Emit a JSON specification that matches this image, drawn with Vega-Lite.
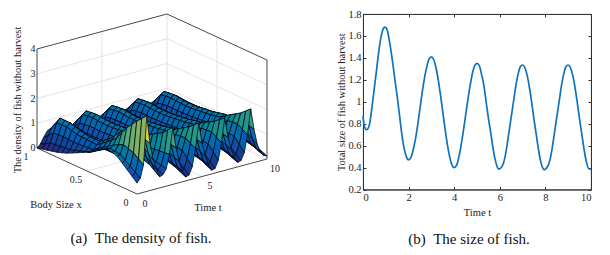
{"$schema":"https://vega.github.io/schema/vega-lite/v6.json","bounds":"flush","spacing":0,"padding":{"left":0,"top":8,"right":0,"bottom":0},"background":"white","config":{"view":{"stroke":null},"text":{"font":"Liberation Serif"}},
"datasets":{
"grid":[
{"k":4020,"z":0.05},{"k":3920,"z":0.19},{"k":3820,"z":0.38},{"k":3720,"z":0.55},{"k":3620,"z":0.6},{"k":3520,"z":0.55},{"k":3420,"z":0.38},{"k":3320,"z":0.19},{"k":3220,"z":0.05},{"k":3120,"z":0.19},{"k":3020,"z":0.38},{"k":2920,"z":0.55},{"k":2820,"z":0.6},{"k":2720,"z":0.55},{"k":2620,"z":0.38},{"k":2520,"z":0.19},{"k":2420,"z":0.05},{"k":2320,"z":0.19},{"k":2220,"z":0.38},{"k":2120,"z":0.55},{"k":2020,"z":0.6},{"k":1920,"z":0.55},{"k":1820,"z":0.38},{"k":1720,"z":0.19},{"k":1620,"z":0.05},{"k":1520,"z":0.2},{"k":1420,"z":0.39},{"k":1320,"z":0.57},{"k":1220,"z":0.63},{"k":1120,"z":0.57},{"k":1020,"z":0.39},{"k":920,"z":0.2},{"k":820,"z":0.06},{"k":720,"z":0.19},{"k":620,"z":0.38},{"k":520,"z":0.55},{"k":420,"z":0.62},{"k":320,"z":0.55},{"k":220,"z":0.35},{"k":120,"z":0.12},{"k":20,"z":0},
{"k":4019,"z":0.12},{"k":3919,"z":0.32},{"k":3819,"z":0.59},{"k":3719,"z":0.82},{"k":3619,"z":0.9},{"k":3519,"z":0.82},{"k":3419,"z":0.59},{"k":3319,"z":0.32},{"k":3219,"z":0.12},{"k":3119,"z":0.32},{"k":3019,"z":0.59},{"k":2919,"z":0.82},{"k":2819,"z":0.9},{"k":2719,"z":0.82},{"k":2619,"z":0.59},{"k":2519,"z":0.32},{"k":2419,"z":0.12},{"k":2319,"z":0.32},{"k":2219,"z":0.59},{"k":2119,"z":0.82},{"k":2019,"z":0.9},{"k":1919,"z":0.82},{"k":1819,"z":0.59},{"k":1719,"z":0.32},{"k":1619,"z":0.12},{"k":1519,"z":0.33},{"k":1419,"z":0.61},{"k":1319,"z":0.86},{"k":1219,"z":0.95},{"k":1119,"z":0.86},{"k":1019,"z":0.61},{"k":919,"z":0.33},{"k":819,"z":0.14},{"k":719,"z":0.33},{"k":619,"z":0.6},{"k":519,"z":0.83},{"k":419,"z":0.93},{"k":319,"z":0.82},{"k":219,"z":0.53},{"k":119,"z":0.23},{"k":19,"z":0.05},
{"k":4018,"z":0.2},{"k":3918,"z":0.45},{"k":3818,"z":0.8},{"k":3718,"z":1.1},{"k":3618,"z":1.2},{"k":3518,"z":1.1},{"k":3418,"z":0.8},{"k":3318,"z":0.45},{"k":3218,"z":0.2},{"k":3118,"z":0.44},{"k":3018,"z":0.79},{"k":2918,"z":1.09},{"k":2818,"z":1.19},{"k":2718,"z":1.09},{"k":2618,"z":0.8},{"k":2518,"z":0.45},{"k":2418,"z":0.2},{"k":2318,"z":0.45},{"k":2218,"z":0.8},{"k":2118,"z":1.1},{"k":2018,"z":1.2},{"k":1918,"z":1.1},{"k":1818,"z":0.8},{"k":1718,"z":0.45},{"k":1618,"z":0.2},{"k":1518,"z":0.47},{"k":1418,"z":0.84},{"k":1318,"z":1.15},{"k":1218,"z":1.26},{"k":1118,"z":1.15},{"k":1018,"z":0.84},{"k":918,"z":0.47},{"k":818,"z":0.22},{"k":718,"z":0.48},{"k":618,"z":0.82},{"k":518,"z":1.12},{"k":418,"z":1.25},{"k":318,"z":1.1},{"k":218,"z":0.72},{"k":118,"z":0.35},{"k":18,"z":0.1},
{"k":4017,"z":0.25},{"k":3917,"z":0.5},{"k":3817,"z":0.84},{"k":3717,"z":1.13},{"k":3617,"z":1.23},{"k":3517,"z":1.13},{"k":3417,"z":0.84},{"k":3317,"z":0.5},{"k":3217,"z":0.25},{"k":3117,"z":0.49},{"k":3017,"z":0.83},{"k":2917,"z":1.12},{"k":2817,"z":1.22},{"k":2717,"z":1.12},{"k":2617,"z":0.84},{"k":2517,"z":0.5},{"k":2417,"z":0.25},{"k":2317,"z":0.5},{"k":2217,"z":0.84},{"k":2117,"z":1.13},{"k":2017,"z":1.23},{"k":1917,"z":1.13},{"k":1817,"z":0.84},{"k":1717,"z":0.5},{"k":1617,"z":0.25},{"k":1517,"z":0.52},{"k":1417,"z":0.87},{"k":1317,"z":1.18},{"k":1217,"z":1.29},{"k":1117,"z":1.18},{"k":1017,"z":0.87},{"k":917,"z":0.52},{"k":817,"z":0.28},{"k":717,"z":0.52},{"k":617,"z":0.84},{"k":517,"z":1.12},{"k":417,"z":1.25},{"k":317,"z":1.11},{"k":217,"z":0.74},{"k":117,"z":0.38},{"k":17,"z":0.15},
{"k":4016,"z":0.3},{"k":3916,"z":0.54},{"k":3816,"z":0.87},{"k":3716,"z":1.16},{"k":3616,"z":1.25},{"k":3516,"z":1.16},{"k":3416,"z":0.87},{"k":3316,"z":0.54},{"k":3216,"z":0.3},{"k":3116,"z":0.54},{"k":3016,"z":0.87},{"k":2916,"z":1.15},{"k":2816,"z":1.24},{"k":2716,"z":1.15},{"k":2616,"z":0.87},{"k":2516,"z":0.54},{"k":2416,"z":0.3},{"k":2316,"z":0.54},{"k":2216,"z":0.87},{"k":2116,"z":1.16},{"k":2016,"z":1.25},{"k":1916,"z":1.16},{"k":1816,"z":0.87},{"k":1716,"z":0.54},{"k":1616,"z":0.3},{"k":1516,"z":0.56},{"k":1416,"z":0.9},{"k":1316,"z":1.2},{"k":1216,"z":1.31},{"k":1116,"z":1.2},{"k":1016,"z":0.9},{"k":916,"z":0.56},{"k":816,"z":0.33},{"k":716,"z":0.55},{"k":616,"z":0.85},{"k":516,"z":1.12},{"k":416,"z":1.25},{"k":316,"z":1.12},{"k":216,"z":0.75},{"k":116,"z":0.4},{"k":16,"z":0.2},
{"k":4015,"z":0.33},{"k":3915,"z":0.55},{"k":3815,"z":0.87},{"k":3715,"z":1.14},{"k":3615,"z":1.23},{"k":3515,"z":1.14},{"k":3415,"z":0.87},{"k":3315,"z":0.55},{"k":3215,"z":0.33},{"k":3115,"z":0.55},{"k":3015,"z":0.86},{"k":2915,"z":1.13},{"k":2815,"z":1.22},{"k":2715,"z":1.13},{"k":2615,"z":0.86},{"k":2515,"z":0.55},{"k":2415,"z":0.33},{"k":2315,"z":0.55},{"k":2215,"z":0.87},{"k":2115,"z":1.14},{"k":2015,"z":1.23},{"k":1915,"z":1.14},{"k":1815,"z":0.87},{"k":1715,"z":0.55},{"k":1615,"z":0.33},{"k":1515,"z":0.57},{"k":1415,"z":0.9},{"k":1315,"z":1.18},{"k":1215,"z":1.29},{"k":1115,"z":1.18},{"k":1015,"z":0.9},{"k":915,"z":0.57},{"k":815,"z":0.37},{"k":715,"z":0.57},{"k":615,"z":0.85},{"k":515,"z":1.08},{"k":415,"z":1.18},{"k":315,"z":1.06},{"k":215,"z":0.74},{"k":115,"z":0.43},{"k":15,"z":0.27},
{"k":4014,"z":0.35},{"k":3914,"z":0.56},{"k":3814,"z":0.86},{"k":3714,"z":1.12},{"k":3614,"z":1.2},{"k":3514,"z":1.12},{"k":3414,"z":0.86},{"k":3314,"z":0.56},{"k":3214,"z":0.35},{"k":3114,"z":0.56},{"k":3014,"z":0.85},{"k":2914,"z":1.11},{"k":2814,"z":1.19},{"k":2714,"z":1.11},{"k":2614,"z":0.85},{"k":2514,"z":0.56},{"k":2414,"z":0.35},{"k":2314,"z":0.56},{"k":2214,"z":0.86},{"k":2114,"z":1.12},{"k":2014,"z":1.2},{"k":1914,"z":1.12},{"k":1814,"z":0.86},{"k":1714,"z":0.56},{"k":1614,"z":0.36},{"k":1514,"z":0.58},{"k":1414,"z":0.89},{"k":1314,"z":1.16},{"k":1214,"z":1.26},{"k":1114,"z":1.16},{"k":1014,"z":0.89},{"k":914,"z":0.58},{"k":814,"z":0.4},{"k":714,"z":0.58},{"k":614,"z":0.85},{"k":514,"z":1.05},{"k":414,"z":1.12},{"k":314,"z":1},{"k":214,"z":0.72},{"k":114,"z":0.45},{"k":14,"z":0.35},
{"k":4013,"z":0.38},{"k":3913,"z":0.58},{"k":3813,"z":0.87},{"k":3713,"z":1.12},{"k":3613,"z":1.2},{"k":3513,"z":1.12},{"k":3413,"z":0.87},{"k":3313,"z":0.58},{"k":3213,"z":0.38},{"k":3113,"z":0.58},{"k":3013,"z":0.86},{"k":2913,"z":1.11},{"k":2813,"z":1.19},{"k":2713,"z":1.11},{"k":2613,"z":0.86},{"k":2513,"z":0.58},{"k":2413,"z":0.38},{"k":2313,"z":0.58},{"k":2213,"z":0.87},{"k":2113,"z":1.12},{"k":2013,"z":1.2},{"k":1913,"z":1.12},{"k":1813,"z":0.87},{"k":1713,"z":0.58},{"k":1613,"z":0.39},{"k":1513,"z":0.6},{"k":1413,"z":0.9},{"k":1313,"z":1.16},{"k":1213,"z":1.26},{"k":1113,"z":1.16},{"k":1013,"z":0.9},{"k":913,"z":0.6},{"k":813,"z":0.42},{"k":713,"z":0.59},{"k":613,"z":0.85},{"k":513,"z":1.03},{"k":413,"z":1.08},{"k":313,"z":0.99},{"k":213,"z":0.74},{"k":113,"z":0.52},{"k":13,"z":0.45},
{"k":4012,"z":0.4},{"k":3912,"z":0.6},{"k":3812,"z":0.88},{"k":3712,"z":1.12},{"k":3612,"z":1.2},{"k":3512,"z":1.12},{"k":3412,"z":0.88},{"k":3312,"z":0.6},{"k":3212,"z":0.4},{"k":3112,"z":0.6},{"k":3012,"z":0.87},{"k":2912,"z":1.11},{"k":2812,"z":1.19},{"k":2712,"z":1.11},{"k":2612,"z":0.87},{"k":2512,"z":0.6},{"k":2412,"z":0.4},{"k":2312,"z":0.6},{"k":2212,"z":0.88},{"k":2112,"z":1.12},{"k":2012,"z":1.2},{"k":1912,"z":1.12},{"k":1812,"z":0.88},{"k":1712,"z":0.6},{"k":1612,"z":0.41},{"k":1512,"z":0.62},{"k":1412,"z":0.92},{"k":1312,"z":1.17},{"k":1212,"z":1.26},{"k":1112,"z":1.17},{"k":1012,"z":0.92},{"k":912,"z":0.62},{"k":812,"z":0.44},{"k":712,"z":0.6},{"k":612,"z":0.85},{"k":512,"z":1.02},{"k":412,"z":1.05},{"k":312,"z":0.98},{"k":212,"z":0.75},{"k":112,"z":0.58},{"k":12,"z":0.55},
{"k":4011,"z":0.4},{"k":3911,"z":0.6},{"k":3811,"z":0.89},{"k":3711,"z":1.14},{"k":3611,"z":1.22},{"k":3511,"z":1.14},{"k":3411,"z":0.89},{"k":3311,"z":0.6},{"k":3211,"z":0.4},{"k":3111,"z":0.6},{"k":3011,"z":0.88},{"k":2911,"z":1.13},{"k":2811,"z":1.21},{"k":2711,"z":1.13},{"k":2611,"z":0.88},{"k":2511,"z":0.6},{"k":2411,"z":0.4},{"k":2311,"z":0.6},{"k":2211,"z":0.89},{"k":2111,"z":1.14},{"k":2011,"z":1.22},{"k":1911,"z":1.14},{"k":1811,"z":0.89},{"k":1711,"z":0.6},{"k":1611,"z":0.41},{"k":1511,"z":0.62},{"k":1411,"z":0.93},{"k":1311,"z":1.19},{"k":1211,"z":1.28},{"k":1111,"z":1.19},{"k":1011,"z":0.93},{"k":911,"z":0.62},{"k":811,"z":0.44},{"k":711,"z":0.61},{"k":611,"z":0.86},{"k":511,"z":1.03},{"k":411,"z":1.05},{"k":311,"z":0.96},{"k":211,"z":0.77},{"k":111,"z":0.65},{"k":11,"z":0.66},
{"k":4010,"z":0.4},{"k":3910,"z":0.61},{"k":3810,"z":0.91},{"k":3710,"z":1.17},{"k":3610,"z":1.25},{"k":3510,"z":1.17},{"k":3410,"z":0.91},{"k":3310,"z":0.61},{"k":3210,"z":0.4},{"k":3110,"z":0.6},{"k":3010,"z":0.9},{"k":2910,"z":1.16},{"k":2810,"z":1.24},{"k":2710,"z":1.16},{"k":2610,"z":0.9},{"k":2510,"z":0.6},{"k":2410,"z":0.4},{"k":2310,"z":0.61},{"k":2210,"z":0.91},{"k":2110,"z":1.17},{"k":2010,"z":1.25},{"k":1910,"z":1.17},{"k":1810,"z":0.91},{"k":1710,"z":0.61},{"k":1610,"z":0.41},{"k":1510,"z":0.63},{"k":1410,"z":0.95},{"k":1310,"z":1.22},{"k":1210,"z":1.31},{"k":1110,"z":1.22},{"k":1010,"z":0.95},{"k":910,"z":0.63},{"k":810,"z":0.45},{"k":710,"z":0.62},{"k":610,"z":0.88},{"k":510,"z":1.05},{"k":410,"z":1.05},{"k":310,"z":0.95},{"k":210,"z":0.8},{"k":110,"z":0.72},{"k":10,"z":0.77},
{"k":4009,"z":0.42},{"k":3909,"z":0.63},{"k":3809,"z":0.93},{"k":3709,"z":1.19},{"k":3609,"z":1.27},{"k":3509,"z":1.19},{"k":3409,"z":0.93},{"k":3309,"z":0.63},{"k":3209,"z":0.42},{"k":3109,"z":0.62},{"k":3009,"z":0.92},{"k":2909,"z":1.18},{"k":2809,"z":1.26},{"k":2709,"z":1.18},{"k":2609,"z":0.92},{"k":2509,"z":0.62},{"k":2409,"z":0.42},{"k":2309,"z":0.63},{"k":2209,"z":0.93},{"k":2109,"z":1.19},{"k":2009,"z":1.27},{"k":1909,"z":1.19},{"k":1809,"z":0.93},{"k":1709,"z":0.63},{"k":1609,"z":0.43},{"k":1509,"z":0.65},{"k":1409,"z":0.97},{"k":1309,"z":1.24},{"k":1209,"z":1.33},{"k":1109,"z":1.24},{"k":1009,"z":0.97},{"k":909,"z":0.65},{"k":809,"z":0.48},{"k":709,"z":0.65},{"k":609,"z":0.93},{"k":509,"z":1.16},{"k":409,"z":1.2},{"k":309,"z":1.1},{"k":209,"z":0.94},{"k":109,"z":0.86},{"k":9,"z":0.91},
{"k":4008,"z":0.45},{"k":3908,"z":0.66},{"k":3808,"z":0.96},{"k":3708,"z":1.22},{"k":3608,"z":1.3},{"k":3508,"z":1.22},{"k":3408,"z":0.96},{"k":3308,"z":0.66},{"k":3208,"z":0.45},{"k":3108,"z":0.65},{"k":3008,"z":0.95},{"k":2908,"z":1.21},{"k":2808,"z":1.29},{"k":2708,"z":1.21},{"k":2608,"z":0.95},{"k":2508,"z":0.65},{"k":2408,"z":0.45},{"k":2308,"z":0.66},{"k":2208,"z":0.96},{"k":2108,"z":1.22},{"k":2008,"z":1.3},{"k":1908,"z":1.22},{"k":1808,"z":0.96},{"k":1708,"z":0.66},{"k":1608,"z":0.46},{"k":1508,"z":0.68},{"k":1408,"z":1},{"k":1308,"z":1.27},{"k":1208,"z":1.36},{"k":1108,"z":1.27},{"k":1008,"z":1},{"k":908,"z":0.68},{"k":808,"z":0.52},{"k":708,"z":0.68},{"k":608,"z":0.98},{"k":508,"z":1.28},{"k":408,"z":1.35},{"k":308,"z":1.25},{"k":208,"z":1.08},{"k":108,"z":1},{"k":8,"z":1.05},
{"k":4007,"z":0.47},{"k":3907,"z":0.69},{"k":3807,"z":1},{"k":3707,"z":1.26},{"k":3607,"z":1.35},{"k":3507,"z":1.26},{"k":3407,"z":1},{"k":3307,"z":0.69},{"k":3207,"z":0.47},{"k":3107,"z":0.68},{"k":3007,"z":0.99},{"k":2907,"z":1.25},{"k":2807,"z":1.34},{"k":2707,"z":1.25},{"k":2607,"z":0.99},{"k":2507,"z":0.68},{"k":2407,"z":0.47},{"k":2307,"z":0.69},{"k":2207,"z":1},{"k":2107,"z":1.26},{"k":2007,"z":1.35},{"k":1907,"z":1.26},{"k":1807,"z":1},{"k":1707,"z":0.69},{"k":1607,"z":0.48},{"k":1507,"z":0.71},{"k":1407,"z":1.04},{"k":1307,"z":1.32},{"k":1207,"z":1.41},{"k":1107,"z":1.32},{"k":1007,"z":1.04},{"k":907,"z":0.71},{"k":807,"z":0.55},{"k":707,"z":0.74},{"k":607,"z":1.09},{"k":507,"z":1.46},{"k":407,"z":1.57},{"k":307,"z":1.42},{"k":207,"z":1.21},{"k":107,"z":1.12},{"k":7,"z":1.16},
{"k":4006,"z":0.5},{"k":3906,"z":0.73},{"k":3806,"z":1.04},{"k":3706,"z":1.31},{"k":3606,"z":1.4},{"k":3506,"z":1.31},{"k":3406,"z":1.04},{"k":3306,"z":0.73},{"k":3206,"z":0.5},{"k":3106,"z":0.72},{"k":3006,"z":1.03},{"k":2906,"z":1.3},{"k":2806,"z":1.39},{"k":2706,"z":1.3},{"k":2606,"z":1.03},{"k":2506,"z":0.72},{"k":2406,"z":0.5},{"k":2306,"z":0.73},{"k":2206,"z":1.04},{"k":2106,"z":1.31},{"k":2006,"z":1.4},{"k":1906,"z":1.31},{"k":1806,"z":1.04},{"k":1706,"z":0.73},{"k":1606,"z":0.51},{"k":1506,"z":0.75},{"k":1406,"z":1.08},{"k":1306,"z":1.37},{"k":1206,"z":1.46},{"k":1106,"z":1.37},{"k":1006,"z":1.08},{"k":906,"z":0.75},{"k":806,"z":0.58},{"k":706,"z":0.8},{"k":606,"z":1.2},{"k":506,"z":1.65},{"k":406,"z":1.8},{"k":306,"z":1.6},{"k":206,"z":1.35},{"k":106,"z":1.25},{"k":6,"z":1.28},
{"k":4005,"z":0.5},{"k":3905,"z":0.59},{"k":3805,"z":0.85},{"k":3705,"z":1.17},{"k":3605,"z":1.4},{"k":3505,"z":1.46},{"k":3405,"z":1.22},{"k":3305,"z":0.88},{"k":3205,"z":0.58},{"k":3105,"z":0.59},{"k":3005,"z":0.85},{"k":2905,"z":1.15},{"k":2805,"z":1.38},{"k":2705,"z":1.44},{"k":2605,"z":1.2},{"k":2505,"z":0.87},{"k":2405,"z":0.58},{"k":2305,"z":0.59},{"k":2205,"z":0.85},{"k":2105,"z":1.17},{"k":2005,"z":1.4},{"k":1905,"z":1.46},{"k":1805,"z":1.22},{"k":1705,"z":0.88},{"k":1605,"z":0.59},{"k":1505,"z":0.61},{"k":1405,"z":0.89},{"k":1305,"z":1.22},{"k":1205,"z":1.46},{"k":1105,"z":1.52},{"k":1005,"z":1.12},{"k":905,"z":0.82},{"k":805,"z":0.68},{"k":705,"z":0.85},{"k":605,"z":1.2},{"k":505,"z":1.63},{"k":405,"z":1.88},{"k":305,"z":1.9},{"k":205,"z":1.45},{"k":105,"z":1.22},{"k":5,"z":1.22},
{"k":4004,"z":0.5},{"k":3904,"z":0.45},{"k":3804,"z":0.66},{"k":3704,"z":1.02},{"k":3604,"z":1.39},{"k":3504,"z":1.6},{"k":3404,"z":1.39},{"k":3304,"z":1.02},{"k":3204,"z":0.66},{"k":3104,"z":0.45},{"k":3004,"z":0.66},{"k":2904,"z":1},{"k":2804,"z":1.37},{"k":2704,"z":1.57},{"k":2604,"z":1.37},{"k":2504,"z":1},{"k":2404,"z":0.66},{"k":2304,"z":0.45},{"k":2204,"z":0.66},{"k":2104,"z":1.02},{"k":2004,"z":1.39},{"k":1904,"z":1.6},{"k":1804,"z":1.39},{"k":1704,"z":1.02},{"k":1604,"z":0.66},{"k":1504,"z":0.47},{"k":1404,"z":0.69},{"k":1304,"z":1.07},{"k":1204,"z":1.46},{"k":1104,"z":1.66},{"k":1004,"z":1.15},{"k":904,"z":0.88},{"k":804,"z":0.78},{"k":704,"z":0.9},{"k":604,"z":1.2},{"k":504,"z":1.6},{"k":404,"z":1.95},{"k":304,"z":2.2},{"k":204,"z":1.55},{"k":104,"z":1.2},{"k":4,"z":1.15},
{"k":4003,"z":0.4},{"k":3903,"z":0.4},{"k":3803,"z":0.6},{"k":3703,"z":1},{"k":3603,"z":1.42},{"k":3503,"z":1.72},{"k":3403,"z":1.42},{"k":3303,"z":1},{"k":3203,"z":0.6},{"k":3103,"z":0.4},{"k":3003,"z":0.6},{"k":2903,"z":0.97},{"k":2803,"z":1.38},{"k":2703,"z":1.68},{"k":2603,"z":1.38},{"k":2503,"z":0.97},{"k":2403,"z":0.6},{"k":2303,"z":0.4},{"k":2203,"z":0.6},{"k":2103,"z":1},{"k":2003,"z":1.42},{"k":1903,"z":1.72},{"k":1803,"z":1.42},{"k":1703,"z":1},{"k":1603,"z":0.6},{"k":1503,"z":0.42},{"k":1403,"z":0.63},{"k":1303,"z":1.04},{"k":1203,"z":1.48},{"k":1103,"z":1.78},{"k":1003,"z":1.18},{"k":903,"z":0.84},{"k":803,"z":0.74},{"k":703,"z":0.82},{"k":603,"z":1.15},{"k":503,"z":1.58},{"k":403,"z":2},{"k":303,"z":2.42},{"k":203,"z":1.48},{"k":103,"z":1.05},{"k":3,"z":0.98},
{"k":4002,"z":0.3},{"k":3902,"z":0.35},{"k":3802,"z":0.55},{"k":3702,"z":0.98},{"k":3602,"z":1.44},{"k":3502,"z":1.85},{"k":3402,"z":1.44},{"k":3302,"z":0.98},{"k":3202,"z":0.55},{"k":3102,"z":0.35},{"k":3002,"z":0.55},{"k":2902,"z":0.95},{"k":2802,"z":1.4},{"k":2702,"z":1.8},{"k":2602,"z":1.4},{"k":2502,"z":0.95},{"k":2402,"z":0.55},{"k":2302,"z":0.35},{"k":2202,"z":0.55},{"k":2102,"z":0.98},{"k":2002,"z":1.44},{"k":1902,"z":1.85},{"k":1802,"z":1.44},{"k":1702,"z":0.98},{"k":1602,"z":0.55},{"k":1502,"z":0.36},{"k":1402,"z":0.57},{"k":1302,"z":1.02},{"k":1202,"z":1.5},{"k":1102,"z":1.9},{"k":1002,"z":1.2},{"k":902,"z":0.8},{"k":802,"z":0.7},{"k":702,"z":0.75},{"k":602,"z":1.1},{"k":502,"z":1.55},{"k":402,"z":2.05},{"k":302,"z":2.65},{"k":202,"z":1.4},{"k":102,"z":0.9},{"k":2,"z":0.8},
{"k":4001,"z":0.21},{"k":3901,"z":0.26},{"k":3801,"z":0.45},{"k":3701,"z":0.84},{"k":3601,"z":1.4},{"k":3501,"z":2.02},{"k":3401,"z":1.31},{"k":3301,"z":0.74},{"k":3201,"z":0.38},{"k":3101,"z":0.26},{"k":3001,"z":0.47},{"k":2901,"z":0.86},{"k":2801,"z":1.35},{"k":2701,"z":1.96},{"k":2601,"z":1.28},{"k":2501,"z":0.72},{"k":2401,"z":0.36},{"k":2301,"z":0.25},{"k":2201,"z":0.47},{"k":2101,"z":0.89},{"k":2001,"z":1.4},{"k":1901,"z":2.02},{"k":1801,"z":1.32},{"k":1701,"z":0.74},{"k":1601,"z":0.38},{"k":1501,"z":0.26},{"k":1401,"z":0.5},{"k":1301,"z":0.94},{"k":1201,"z":1.48},{"k":1101,"z":2.1},{"k":1001,"z":1.22},{"k":901,"z":0.75},{"k":801,"z":0.6},{"k":701,"z":0.6},{"k":601,"z":0.95},{"k":501,"z":1.38},{"k":401,"z":1.98},{"k":301,"z":2.85},{"k":201,"z":1.25},{"k":101,"z":0.75},{"k":1,"z":0.62},
{"k":4000,"z":0.12},{"k":3900,"z":0.18},{"k":3800,"z":0.35},{"k":3700,"z":0.7},{"k":3600,"z":1.35},{"k":3500,"z":2.2},{"k":3400,"z":1.18},{"k":3300,"z":0.5},{"k":3200,"z":0.22},{"k":3100,"z":0.18},{"k":3000,"z":0.4},{"k":2900,"z":0.78},{"k":2800,"z":1.3},{"k":2700,"z":2.12},{"k":2600,"z":1.15},{"k":2500,"z":0.48},{"k":2400,"z":0.18},{"k":2300,"z":0.15},{"k":2200,"z":0.4},{"k":2100,"z":0.8},{"k":2000,"z":1.35},{"k":1900,"z":2.2},{"k":1800,"z":1.2},{"k":1700,"z":0.5},{"k":1600,"z":0.2},{"k":1500,"z":0.16},{"k":1400,"z":0.42},{"k":1300,"z":0.85},{"k":1200,"z":1.45},{"k":1100,"z":2.3},{"k":1000,"z":1.25},{"k":900,"z":0.7},{"k":800,"z":0.5},{"k":700,"z":0.45},{"k":600,"z":0.8},{"k":500,"z":1.2},{"k":400,"z":1.9},{"k":300,"z":3.05},{"k":200,"z":1.1},{"k":100,"z":0.6},{"k":0,"z":0.44}
],
"frame":[
{"p":1,"o":0,"c":"k","t":0,"x":1,"z":0},{"p":1,"o":1,"c":"k","t":0,"x":1,"z":4},{"p":1,"o":2,"c":"k","t":10,"x":1,"z":4},{"p":1,"o":3,"c":"k","t":10,"x":0,"z":4},{"p":1,"o":4,"c":"k","t":10,"x":0,"z":0},{"p":1,"o":5,"c":"k","t":0,"x":0,"z":0},{"p":1,"o":6,"c":"k","t":0,"x":1,"z":0},
{"p":2,"o":0,"c":"g","t":0,"x":1,"z":1},{"p":2,"o":1,"c":"g","t":10,"x":1,"z":1},{"p":2,"o":2,"c":"g","t":10,"x":0,"z":1},
{"p":3,"o":0,"c":"g","t":0,"x":1,"z":2},{"p":3,"o":1,"c":"g","t":10,"x":1,"z":2},{"p":3,"o":2,"c":"g","t":10,"x":0,"z":2},
{"p":4,"o":0,"c":"g","t":0,"x":1,"z":3},{"p":4,"o":1,"c":"g","t":10,"x":1,"z":3},{"p":4,"o":2,"c":"g","t":10,"x":0,"z":3},
{"p":5,"o":0,"c":"g","t":10,"x":1,"z":0},{"p":5,"o":1,"c":"g","t":10,"x":1,"z":4},
{"p":6,"o":0,"c":"g","t":5,"x":0,"z":0},{"p":6,"o":1,"c":"g","t":5,"x":1,"z":0},{"p":6,"o":2,"c":"g","t":5,"x":1,"z":4},
{"p":7,"o":0,"c":"g","t":0,"x":0.5,"z":0},{"p":7,"o":1,"c":"g","t":10,"x":0.5,"z":0},{"p":7,"o":2,"c":"g","t":10,"x":0.5,"z":4},
{"p":8,"o":0,"c":"g","t":0,"x":1,"z":0},{"p":8,"o":1,"c":"g","t":10,"x":1,"z":0},{"p":8,"o":2,"c":"g","t":10,"x":0,"z":0}
],
"labels":[
{"g":"z","s":"0","t":0,"x":1,"z":0},{"g":"z","s":"1","t":0,"x":1,"z":1},{"g":"z","s":"2","t":0,"x":1,"z":2},{"g":"z","s":"3","t":0,"x":1,"z":3},{"g":"z","s":"4","t":0,"x":1,"z":4},
{"g":"x","s":"0","t":0,"x":0,"z":0},{"g":"x","s":"0.5","t":0,"x":0.5,"z":0},{"g":"x","s":"1","t":0,"x":1,"z":0},
{"g":"t","s":"0","t":0,"x":0,"z":0},{"g":"t","s":"5","t":5,"x":0,"z":0},{"g":"t","s":"10","t":10,"x":0,"z":0},
{"g":"tt","s":"Time t","t":5,"x":0,"z":0},{"g":"tx","s":"Body Size x","t":0,"x":0.5,"z":0},{"g":"tz","s":"The density of fish without harvest","t":0,"x":1,"z":2},{"g":"cap","s":"(a)\u00a0\u00a0The density of fish.","t":0,"x":0,"z":0}
],
"curve":[
{"t":0,"v":0.87},{"t":0.05,"v":0.79},{"t":0.1,"v":0.755},{"t":0.15,"v":0.745},{"t":0.2,"v":0.75},{"t":0.3,"v":0.81},{"t":0.4,"v":0.96},{"t":0.5,"v":1.13},{"t":0.6,"v":1.3},{"t":0.7,"v":1.47},{"t":0.8,"v":1.6},{"t":0.9,"v":1.67},{"t":0.97,"v":1.68},{"t":1.05,"v":1.66},{"t":1.2,"v":1.5},{"t":1.3,"v":1.36},{"t":1.4,"v":1.2},{"t":1.5,"v":1.05},{"t":1.6,"v":0.88},{"t":1.7,"v":0.71},{"t":1.8,"v":0.58},{"t":1.9,"v":0.5},{"t":2,"v":0.47},{"t":2.1,"v":0.49},{"t":2.2,"v":0.56},{"t":2.3,"v":0.66},{"t":2.4,"v":0.79},{"t":2.5,"v":0.94},{"t":2.6,"v":1.09},{"t":2.7,"v":1.22},{"t":2.8,"v":1.32},{"t":2.9,"v":1.39},{"t":3,"v":1.41},{"t":3.1,"v":1.385},{"t":3.2,"v":1.31},{"t":3.3,"v":1.2},{"t":3.4,"v":1.06},{"t":3.5,"v":0.905},{"t":3.6,"v":0.75},{"t":3.7,"v":0.61},{"t":3.8,"v":0.5},{"t":3.9,"v":0.425},{"t":4,"v":0.4},{"t":4.1,"v":0.42},{"t":4.2,"v":0.49},{"t":4.3,"v":0.6},{"t":4.4,"v":0.73},{"t":4.5,"v":0.875},{"t":4.6,"v":1.02},{"t":4.7,"v":1.15},{"t":4.8,"v":1.26},{"t":4.9,"v":1.33},{"t":5,"v":1.35},{"t":5.1,"v":1.33},{"t":5.2,"v":1.25},{"t":5.3,"v":1.15},{"t":5.4,"v":1},{"t":5.5,"v":0.85},{"t":5.6,"v":0.72},{"t":5.7,"v":0.58},{"t":5.8,"v":0.47},{"t":5.9,"v":0.4},{"t":5.95,"v":0.385},{"t":6,"v":0.39},{"t":6.1,"v":0.41},{"t":6.2,"v":0.47},{"t":6.3,"v":0.58},{"t":6.4,"v":0.72},{"t":6.5,"v":0.86},{"t":6.6,"v":1},{"t":6.7,"v":1.14},{"t":6.8,"v":1.25},{"t":6.9,"v":1.32},{"t":7,"v":1.335},{"t":7.1,"v":1.31},{"t":7.2,"v":1.24},{"t":7.3,"v":1.13},{"t":7.4,"v":0.99},{"t":7.5,"v":0.84},{"t":7.6,"v":0.7},{"t":7.7,"v":0.56},{"t":7.8,"v":0.45},{"t":7.9,"v":0.39},{"t":7.95,"v":0.38},{"t":8,"v":0.385},{"t":8.1,"v":0.41},{"t":8.2,"v":0.47},{"t":8.3,"v":0.58},{"t":8.4,"v":0.72},{"t":8.5,"v":0.86},{"t":8.6,"v":1},{"t":8.7,"v":1.14},{"t":8.8,"v":1.25},{"t":8.9,"v":1.32},{"t":9,"v":1.335},{"t":9.1,"v":1.31},{"t":9.2,"v":1.24},{"t":9.3,"v":1.13},{"t":9.4,"v":0.99},{"t":9.5,"v":0.84},{"t":9.6,"v":0.7},{"t":9.7,"v":0.56},{"t":9.8,"v":0.45},{"t":9.9,"v":0.39},{"t":10,"v":0.385}
]},
"hconcat":[
{"width":362.5,"height":241,
"encoding":{"x":{"field":"sx","type":"quantitative","axis":null,"scale":{"domain":[0,362.5],"nice":false,"zero":false}},"y":{"field":"sy","type":"quantitative","axis":null,"scale":{"domain":[255,14],"nice":false,"zero":false}}},
"layer":[
{"data":{"name":"frame"},"transform":[{"filter":"datum.c=='g'"},{"calculate":"137+13*datum.t-100*datum.x","as":"sx"},{"calculate":"194-3.5*datum.t-46*datum.x-24.75*datum.z","as":"sy"}],"mark":{"type":"line","stroke":"#dcdcdc","strokeWidth":0.8},"encoding":{"detail":{"field":"p"},"order":{"field":"o"}}},
{"data":{"name":"frame"},"transform":[{"filter":"datum.c=='k'"},{"calculate":"137+13*datum.t-100*datum.x","as":"sx"},{"calculate":"194-3.5*datum.t-46*datum.x-24.75*datum.z","as":"sy"}],"mark":{"type":"line","stroke":"#333","strokeWidth":0.9},"encoding":{"detail":{"field":"p"},"order":{"field":"o"}}},
{"data":{"name":"grid"},"transform":[
{"calculate":"datum.k+100","as":"kb"},{"calculate":"datum.k+101","as":"kc"},{"calculate":"datum.k+1","as":"kd"},
{"lookup":"kb","from":{"data":{"name":"grid"},"key":"k","fields":["z"]},"as":["zb"]},
{"lookup":"kc","from":{"data":{"name":"grid"},"key":"k","fields":["z"]},"as":["zc"]},
{"lookup":"kd","from":{"data":{"name":"grid"},"key":"k","fields":["z"]},"as":["zd"]},
{"filter":"datum.zb!=null&&datum.zc!=null&&datum.zd!=null&&(datum.k%100)<20"},
{"calculate":"(datum.z+datum.zb+datum.zc+datum.zd)/4","as":"m"},
{"calculate":"datum.z","as":"za"},
{"fold":["z","zb","zc","zd","za"],"as":["c","h"]},
{"calculate":"indexof(['z','zb','zc','zd','za'],datum.c)","as":"ci"},
{"calculate":"floor(datum.k/100)/4+((datum.ci==1||datum.ci==2)?0.25:0)","as":"t"},
{"calculate":"(datum.k%100)/20+((datum.ci==2||datum.ci==3)?0.05:0)","as":"x"},
{"calculate":"137+13*datum.t-100*datum.x","as":"sx"},
{"calculate":"194-3.5*datum.t-46*datum.x-24.75*datum.h","as":"sy"}],
"mark":{"type":"line","stroke":"#04040c","strokeWidth":0.75,"strokeJoin":"round"},
"encoding":{"detail":{"field":"k"},"order":{"field":"ci"},"fill":{"field":"m","type":"quantitative","legend":null,"scale":{"domain":[0,0.4,0.8,1.2,1.6,1.9,2.2,2.6],"range":["#2a2478","#123a8e","#0a58b8","#0c72a8","#14908f","#52a880","#c2b64c","#f8dc20"]}}}},
{"data":{"name":"labels"},"transform":[{"filter":"datum.g=='z'"},{"calculate":"137+13*datum.t-100*datum.x","as":"sx"},{"calculate":"194-3.5*datum.t-46*datum.x-24.75*datum.z","as":"sy"}],"mark":{"type":"text","font":"Liberation Serif","fontSize":10,"color":"#222","dx":-4},"encoding":{"text":{"field":"s"}}},
{"data":{"name":"labels"},"transform":[{"filter":"datum.g=='x'"},{"calculate":"137+13*datum.t-100*datum.x","as":"sx"},{"calculate":"194-3.5*datum.t-46*datum.x-24.75*datum.z","as":"sy"}],"mark":{"type":"text","font":"Liberation Serif","fontSize":10,"color":"#222","dx":-11,"dy":9},"encoding":{"text":{"field":"s"}}},
{"data":{"name":"labels"},"transform":[{"filter":"datum.g=='t'"},{"calculate":"137+13*datum.t-100*datum.x","as":"sx"},{"calculate":"194-3.5*datum.t-46*datum.x-24.75*datum.z","as":"sy"}],"mark":{"type":"text","font":"Liberation Serif","fontSize":10,"color":"#222","dx":8,"dy":9.5},"encoding":{"text":{"field":"s"}}},
{"data":{"name":"labels"},"transform":[{"filter":"datum.g=='tt'"},{"calculate":"137+13*datum.t-100*datum.x","as":"sx"},{"calculate":"194-3.5*datum.t-46*datum.x-24.75*datum.z","as":"sy"}],"mark":{"type":"text","font":"Liberation Serif","fontSize":10.5,"color":"#222","dx":6,"dy":31},"encoding":{"text":{"field":"s"}}},
{"data":{"name":"labels"},"transform":[{"filter":"datum.g=='tx'"},{"calculate":"137+13*datum.t-100*datum.x","as":"sx"},{"calculate":"194-3.5*datum.t-46*datum.x-24.75*datum.z","as":"sy"}],"mark":{"type":"text","font":"Liberation Serif","fontSize":10.5,"color":"#222","dx":-31,"dy":34},"encoding":{"text":{"field":"s"}}},
{"data":{"name":"labels"},"transform":[{"filter":"datum.g=='tz'"},{"calculate":"137+13*datum.t-100*datum.x","as":"sx"},{"calculate":"194-3.5*datum.t-46*datum.x-24.75*datum.z","as":"sy"}],"mark":{"type":"text","font":"Liberation Serif","fontSize":10.5,"color":"#222","angle":270,"dx":-1.5,"dy":-19},"encoding":{"text":{"field":"s"}}},
{"data":{"name":"labels"},"transform":[{"filter":"datum.g=='cap'"},{"calculate":"137+13*datum.t-100*datum.x","as":"sx"},{"calculate":"194-3.5*datum.t-46*datum.x-24.75*datum.z","as":"sy"}],"mark":{"type":"text","font":"Liberation Serif","fontSize":15,"color":"#111","dx":4,"dy":44},"encoding":{"text":{"field":"s"}}}
]},
{"width":228,"height":175.5,"view":{"stroke":"#333","strokeWidth":0.9},
"title":{"text":"(b)\u00a0\u00a0The size of fish.","orient":"bottom","offset":14,"font":"Liberation Serif","fontSize":15,"fontWeight":"normal","color":"#111","dx":-8},
"data":{"name":"curve"},
"layer":[
{"mark":{"type":"line","stroke":"#0f72bd","strokeWidth":1.7,"interpolate":"monotone"},
"encoding":{"x":{"field":"t","type":"quantitative","scale":{"domain":[0,10],"nice":false},"axis":{"title":"Time t","values":[0,2,4,6,8,10],"grid":false,"domainColor":"#333","tickColor":"#333","tickSize":-3,"labelPadding":6,"labelFont":"Liberation Serif","labelFontSize":10.5,"labelColor":"#222","titleFont":"Liberation Serif","titleFontSize":10.5,"titleFontWeight":"normal","titleColor":"#222","titlePadding":4}},
"y":{"field":"v","type":"quantitative","scale":{"domain":[0.2,1.8],"nice":false,"zero":false},"axis":{"title":"Total size of fish without harvest","values":[0.2,0.4,0.6,0.8,1,1.2,1.4,1.6,1.8],"format":"~g","grid":false,"domainColor":"#333","tickColor":"#333","tickSize":-3,"labelPadding":5,"labelFont":"Liberation Serif","labelFontSize":10.5,"labelColor":"#222","titleFont":"Liberation Serif","titleFontSize":10.5,"titleFontWeight":"normal","titleColor":"#222","titlePadding":1}}}},
{"mark":{"type":"line","opacity":0},
"encoding":{"x":{"field":"t","type":"quantitative","axis":{"orient":"top","title":null,"labels":false,"values":[0,2,4,6,8,10],"grid":false,"domainColor":"#333","tickColor":"#333","tickSize":-3}},
"y":{"field":"v","type":"quantitative","axis":{"orient":"right","title":null,"labels":false,"values":[0.2,0.4,0.6,0.8,1,1.2,1.4,1.6,1.8],"grid":false,"domainColor":"#333","tickColor":"#333","tickSize":-3}}}}
],
"resolve":{"axis":{"x":"independent","y":"independent"}}}
]}
